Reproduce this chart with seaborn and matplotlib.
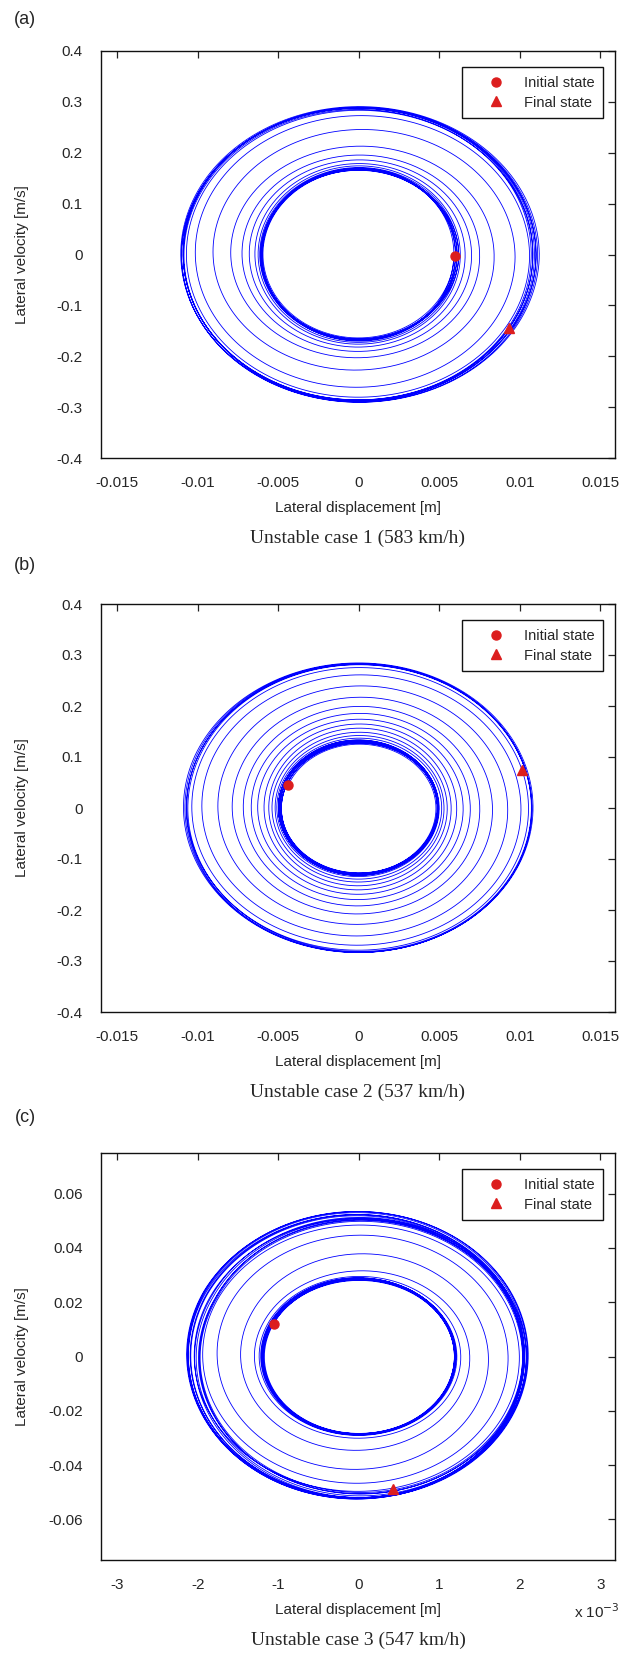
import numpy as np
import pandas as pd
import matplotlib
matplotlib.use("Agg")
import matplotlib.pyplot as plt
from matplotlib.lines import Line2D
import seaborn as sns

# ---------------- data ----------------
panel_tags = ["(a)", "(b)", "(c)"]
captions = ["Unstable case 1 (583 km/h)", "Unstable case 2 (537 km/h)", "Unstable case 3 (547 km/h)"]

# per-turn amplitudes of the phase-plane orbit (displacement [m], velocity [m/s])
a_amp_x = [0.0059, 0.0060, 0.0061, 0.0059, 0.0062, 0.0060, 0.0061, 0.0062, 0.0063, 0.0066,
           0.0070, 0.0075, 0.0084, 0.0097, 0.0106, 0.0108, 0.0110, 0.0107, 0.0111, 0.0109,
           0.0112, 0.0108, 0.0110, 0.0111]
a_amp_y = [0.163, 0.167, 0.165, 0.169, 0.166, 0.171, 0.168, 0.172, 0.175, 0.180,
           0.188, 0.198, 0.218, 0.255, 0.279, 0.285, 0.289, 0.284, 0.291, 0.287,
           0.292, 0.286, 0.290, 0.289]
a_initial = (0.0060, -0.003)
a_final = (0.0093, -0.145)

b_amp_x = [0.0047, 0.0049, 0.0048, 0.0050, 0.0048, 0.0050, 0.0049, 0.0050, 0.0048, 0.0050,
           0.0049, 0.0051, 0.0052, 0.0054, 0.0056, 0.0059, 0.0063, 0.0067, 0.0072, 0.0079,
           0.0088, 0.0098, 0.0104, 0.0107, 0.0108, 0.0106, 0.0109, 0.0107, 0.0108]
b_amp_y = [0.124, 0.130, 0.126, 0.133, 0.127, 0.134, 0.129, 0.132, 0.126, 0.134,
           0.131, 0.136, 0.141, 0.147, 0.155, 0.163, 0.172, 0.183, 0.196, 0.213,
           0.235, 0.258, 0.274, 0.281, 0.284, 0.280, 0.285, 0.282, 0.283]
b_initial = (-0.0044, 0.046)
b_final = (0.0101, 0.075)

c_amp_x = [0.00118, 0.00120, 0.00117, 0.00121, 0.00119, 0.00122, 0.00118, 0.00121, 0.00120,
           0.00124, 0.00130, 0.00148, 0.00178, 0.00195, 0.00205, 0.00212, 0.00198, 0.00214,
           0.00203, 0.00209, 0.00196, 0.00213, 0.00201, 0.00210, 0.00197, 0.00215, 0.00204]
c_amp_y = [0.0279, 0.0287, 0.0282, 0.0291, 0.0284, 0.0292, 0.0281, 0.0289, 0.0286,
           0.0293, 0.0305, 0.0365, 0.0440, 0.0480, 0.0505, 0.0530, 0.0494, 0.0540,
           0.0510, 0.0525, 0.0490, 0.0536, 0.0503, 0.0528, 0.0497, 0.0538, 0.0515]
c_initial = (-0.00105, 0.012)
c_final = (0.00042, -0.049)

ab_xticks = [-0.015, -0.01, -0.005, 0, 0.005, 0.01, 0.015]
ab_xticklabels = ["-0.015", "-0.01", "-0.005", "0", "0.005", "0.01", "0.015"]
ab_yticks = [-0.4, -0.3, -0.2, -0.1, 0, 0.1, 0.2, 0.3, 0.4]
ab_yticklabels = ["-0.4", "-0.3", "-0.2", "-0.1", "0", "0.1", "0.2", "0.3", "0.4"]
c_xticks = [-0.003, -0.002, -0.001, 0, 0.001, 0.002, 0.003]
c_xticklabels = ["-3", "-2", "-1", "0", "1", "2", "3"]
c_yticks = [-0.06, -0.04, -0.02, 0, 0.02, 0.04, 0.06]
c_yticklabels = ["-0.06", "-0.04", "-0.02", "0", "0.02", "0.04", "0.06"]

# ---------------- style ----------------
sns.set_style("white")
plt.rcParams["font.family"] = ["Liberation Sans", "DejaVu Sans"]
plt.rcParams["axes.unicode_minus"] = False

W, H = 622, 1653
fig = plt.figure(figsize=(W / 100, H / 100), dpi=100)
fig.patch.set_facecolor("white")

BLUE = (0, 0, 1)
RED = "#dc1e1e"


def trajectory(amp_x, amp_y, p0, pf, pts_per_turn=360):
    amp_x = np.asarray(amp_x)
    amp_y = np.asarray(amp_y)
    K = len(amp_x)
    phi0 = np.arctan2(-p0[1] / amp_y[0], p0[0] / amp_x[0])
    angf = np.arctan2(-pf[1] / amp_y[-1], pf[0] / amp_x[-1])
    last = phi0 + 2 * np.pi * (K - 1)
    phi_end = last - ((last - angf) % (2 * np.pi))
    n = int(pts_per_turn * (phi_end - phi0) / (2 * np.pi))
    phi = np.linspace(phi0, phi_end, n)
    knots = phi0 + 2 * np.pi * np.arange(K)
    ax_ = np.interp(phi, knots, amp_x)
    ay_ = np.interp(phi, knots, amp_y)
    return pd.DataFrame({"disp": ax_ * np.cos(phi), "vel": -ay_ * np.sin(phi)})


def px_y(p):
    return 1 - p / H


L_PX, R_PX = 101, 615
left = L_PX / W
width = (R_PX - L_PX) / W
panels = [
    dict(top=51, bottom=458, amp=(a_amp_x, a_amp_y), p0=a_initial, pf=a_final,
         xlim=(-0.016, 0.0159), ylim=(-0.4, 0.4), xt=ab_xticks, xtl=ab_xticklabels,
         yt=ab_yticks, ytl=ab_yticklabels, tag_y=19),
    dict(top=604, bottom=1012, amp=(b_amp_x, b_amp_y), p0=b_initial, pf=b_final,
         xlim=(-0.016, 0.0159), ylim=(-0.4, 0.4), xt=ab_xticks, xtl=ab_xticklabels,
         yt=ab_yticks, ytl=ab_yticklabels, tag_y=566),
    dict(top=1153, bottom=1560, amp=(c_amp_x, c_amp_y), p0=c_initial, pf=c_final,
         xlim=(-0.0032, 0.00318), ylim=(-0.075, 0.075), xt=c_xticks, xtl=c_xticklabels,
         yt=c_yticks, ytl=c_yticklabels, tag_y=1117),
]

for i, p in enumerate(panels):
    ax_h = p["bottom"] - p["top"]
    ax = fig.add_axes([left, px_y(p["bottom"]), width, ax_h / H])
    df = trajectory(p["amp"][0], p["amp"][1], p["p0"], p["pf"])
    sns.lineplot(data=df, x="disp", y="vel", sort=False, estimator=None,
                 color=BLUE, linewidth=0.6, ax=ax)
    ax.plot([p["p0"][0]], [p["p0"][1]], marker="o", ls="none", color=RED, ms=6.5, zorder=5)
    ax.plot([p["pf"][0]], [p["pf"][1]], marker="^", ls="none", color=RED, ms=7, zorder=5)
    ax.set_xlim(*p["xlim"])
    ax.set_ylim(*p["ylim"])
    ax.set_xticks(p["xt"])
    ax.set_xticklabels(p["xtl"])
    ax.set_yticks(p["yt"])
    ax.set_yticklabels(p["ytl"])
    ax.set_xlabel("")
    ax.set_ylabel("")
    ax.tick_params(direction="in", length=5, width=0.9, labelsize=11, color="#222222",
                   top=True, right=True, labeltop=False, labelright=False)
    ax.tick_params(axis="x", pad=13)
    ax.tick_params(axis="y", pad=13)
    for s in ax.spines.values():
        s.set_visible(True)
        s.set_color("#111111")
        s.set_linewidth(1.0)

    handles = [Line2D([], [], marker="o", ls="none", color=RED, ms=6.5),
               Line2D([], [], marker="^", ls="none", color=RED, ms=7)]
    leg = ax.legend(handles, ["Initial state", "Final state"], loc="upper right",
                    bbox_to_anchor=(1 - 12 / (R_PX - L_PX), 1 - 16 / ax_h),
                    borderaxespad=0, frameon=True, fancybox=False, fontsize=10.5,
                    handlelength=3.4, handletextpad=0.2, borderpad=0.6, labelspacing=0.4)
    fr = leg.get_frame()
    fr.set_edgecolor("#111111")
    fr.set_linewidth(1.0)
    fr.set_alpha(1)

    cx = (L_PX + R_PX) / 2 / W
    fig.text(25 / W, px_y(p["tag_y"]), panel_tags[i], fontsize=13, ha="center", va="center")
    fig.text(cx, px_y(p["bottom"] + 50), "Lateral displacement [m]", fontsize=11,
             ha="center", va="center")
    fig.text(cx, px_y(p["bottom"] + 80), captions[i], fontsize=14,
             family=["Liberation Serif", "DejaVu Serif"], ha="center", va="center")
    fig.text(22 / W, px_y((p["top"] + p["bottom"]) / 2), "Lateral velocity [m/s]",
             fontsize=11, rotation=90, ha="center", va="center")
    if i == 2:
        fig.text(597 / W, px_y(p["bottom"] + 52), "x 10$^{-3}$", fontsize=11,
                 ha="center", va="center")

fig.savefig("out.png", dpi=100, facecolor="white")
